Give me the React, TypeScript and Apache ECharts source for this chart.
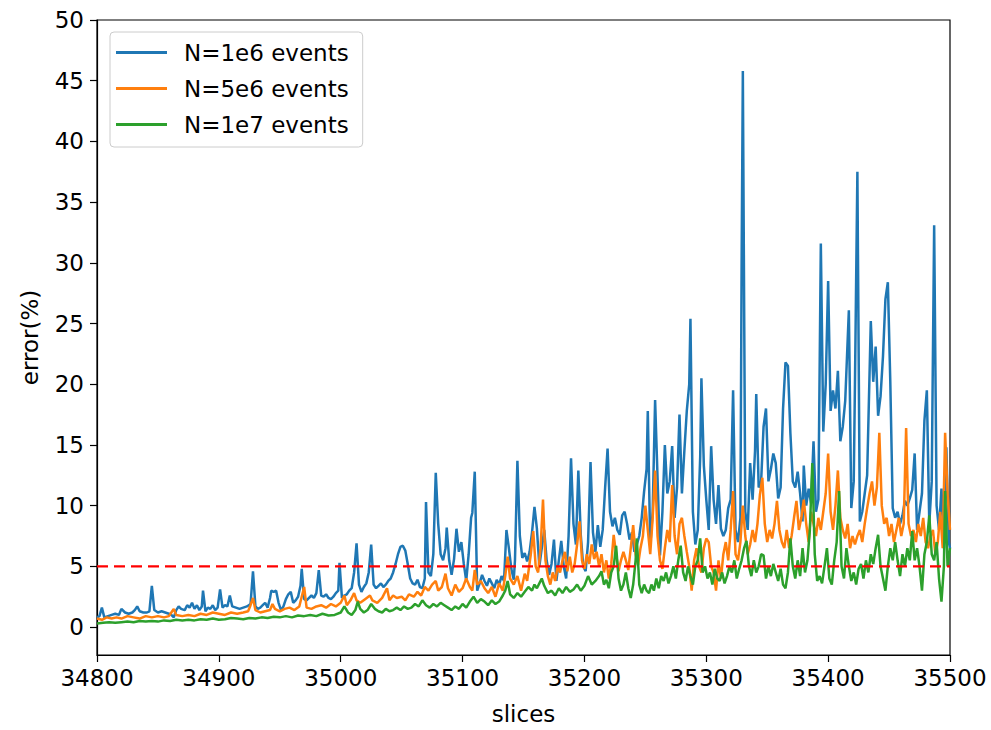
import React, { useEffect, useRef } from "react";
import * as echarts from "echarts";

// [slice, error %]
const blueData: [number, number][] = [
  [34800,0.8],[34802,0.9],[34804,1.6],[34806,0.8],[34809,0.9],[34812,1.0],[34815,1.1],[34818,1.0],[34820,1.5],[34823,1.2],[34826,1.1],[34829,1.2],[34831,1.4],[34833,1.7],[34835,1.3],[34838,1.2],[34841,1.2],[34843,1.3],[34845,3.4],[34847,1.4],[34850,1.2],[34853,1.3],[34856,1.2],[34859,1.1],[34861,1.0],[34863,0.8],[34865,1.4],[34867,1.7],[34869,1.5],[34872,1.4],[34874,1.8],[34876,1.6],[34878,2.0],[34880,1.5],[34882,1.8],[34884,1.4],[34886,1.7],[34887,3.0],[34889,1.3],[34891,1.6],[34893,1.5],[34895,1.8],[34897,1.4],[34899,1.6],[34901,3.1],[34903,1.6],[34905,1.8],[34907,1.7],[34909,2.6],[34911,1.7],[34914,1.6],[34917,1.5],[34920,1.6],[34923,1.7],[34926,1.9],[34928,4.6],[34930,1.7],[34932,1.5],[34934,1.6],[34936,1.8],[34938,2.0],[34940,1.6],[34942,2.4],[34943,3.0],[34945,2.9],[34947,3.0],[34949,2.0],[34951,1.4],[34953,1.7],[34955,2.3],[34957,2.7],[34959,2.9],[34961,2.0],[34963,2.2],[34965,2.5],[34967,3.4],[34968,4.8],[34970,2.3],[34972,2.2],[34974,2.4],[34976,2.6],[34978,2.4],[34980,2.8],[34982,4.7],[34984,2.6],[34986,2.5],[34988,2.7],[34990,2.4],[34992,2.3],[34994,2.5],[34996,2.8],[34998,3.0],[34999,5.3],[35001,2.4],[35003,2.6],[35005,2.7],[35007,3.0],[35009,3.2],[35011,4.5],[35013,6.9],[35015,3.5],[35017,2.9],[35019,3.3],[35021,3.6],[35023,4.5],[35025,6.8],[35027,3.5],[35029,3.2],[35031,3.4],[35033,3.6],[35035,3.3],[35037,3.5],[35039,3.8],[35041,4.0],[35043,4.5],[35045,5.2],[35047,6.0],[35049,6.6],[35051,6.7],[35053,6.3],[35055,5.2],[35057,4.0],[35059,3.6],[35061,3.5],[35063,3.9],[35065,3.3],[35067,3.2],[35069,4.0],[35070,10.3],[35072,4.5],[35074,4.2],[35076,6.0],[35078,12.7],[35080,8.5],[35082,6.0],[35084,5.5],[35086,6.5],[35087,8.2],[35089,5.5],[35091,4.3],[35093,5.6],[35095,8.1],[35097,6.2],[35099,7.0],[35101,5.2],[35103,3.8],[35105,6.0],[35107,9.0],[35108,9.4],[35110,12.8],[35112,3.0],[35114,3.6],[35116,4.3],[35118,3.8],[35120,3.4],[35122,4.0],[35124,3.6],[35126,3.2],[35128,3.9],[35130,3.5],[35132,4.2],[35134,3.8],[35136,8.0],[35138,6.5],[35140,4.8],[35142,3.9],[35143,5.5],[35145,13.7],[35147,7.5],[35149,5.7],[35151,6.1],[35153,5.4],[35155,6.2],[35157,7.8],[35159,9.9],[35161,8.1],[35163,5.0],[35165,6.5],[35167,8.0],[35169,5.5],[35171,4.3],[35173,5.2],[35175,7.2],[35177,3.8],[35179,5.5],[35181,7.1],[35183,5.0],[35185,4.0],[35187,7.5],[35189,13.9],[35191,8.5],[35193,6.8],[35195,12.9],[35197,7.6],[35199,5.0],[35201,4.6],[35203,7.0],[35205,13.6],[35207,7.8],[35209,6.2],[35211,8.4],[35213,6.6],[35215,8.0],[35217,11.5],[35219,14.7],[35221,9.5],[35223,8.3],[35225,9.0],[35227,8.0],[35229,7.6],[35231,9.2],[35233,9.5],[35235,8.5],[35237,7.2],[35239,7.8],[35241,6.2],[35243,6.8],[35245,7.5],[35247,9.0],[35249,11.2],[35251,13.0],[35252,17.8],[35254,6.7],[35256,9.5],[35258,18.7],[35260,12.3],[35262,5.9],[35264,9.5],[35266,15.0],[35268,11.0],[35270,12.0],[35272,14.9],[35274,9.0],[35276,11.5],[35278,17.5],[35280,11.0],[35282,14.5],[35284,17.8],[35286,20.0],[35287,25.4],[35289,9.5],[35291,6.8],[35293,8.0],[35295,14.0],[35296,20.5],[35298,13.3],[35300,10.5],[35302,8.0],[35304,14.9],[35306,10.5],[35308,8.5],[35310,11.7],[35312,8.1],[35314,7.5],[35316,8.0],[35318,9.8],[35320,10.5],[35322,19.5],[35324,8.0],[35326,7.0],[35328,9.0],[35329,30.0],[35330,45.8],[35332,9.5],[35334,8.0],[35336,13.5],[35338,10.5],[35340,14.5],[35341,19.2],[35343,11.5],[35345,12.0],[35347,16.5],[35349,18.0],[35351,12.0],[35353,13.0],[35355,14.3],[35357,13.5],[35359,10.6],[35361,11.5],[35363,18.0],[35365,21.8],[35367,21.5],[35369,16.0],[35371,12.0],[35373,11.5],[35375,12.8],[35377,11.0],[35379,8.7],[35380,13.3],[35382,10.0],[35384,11.4],[35386,10.2],[35388,15.3],[35390,9.5],[35392,10.5],[35394,31.6],[35396,16.1],[35398,20.0],[35400,28.5],[35402,17.8],[35404,19.5],[35406,18.0],[35408,21.1],[35410,15.3],[35412,16.5],[35414,18.6],[35417,26.1],[35419,9.8],[35421,12.0],[35422,20.0],[35424,37.5],[35426,8.7],[35428,9.5],[35430,11.0],[35432,12.5],[35435,25.2],[35437,20.2],[35439,23.1],[35441,17.4],[35443,19.0],[35445,22.3],[35447,27.0],[35449,28.4],[35451,20.2],[35453,9.8],[35455,9.0],[35457,9.5],[35459,8.5],[35461,9.2],[35463,10.4],[35465,10.0],[35467,10.6],[35469,11.3],[35471,14.3],[35473,8.0],[35475,9.5],[35477,11.0],[35479,17.0],[35481,19.5],[35483,8.5],[35485,12.0],[35487,33.1],[35489,10.0],[35491,8.0],[35493,11.4],[35495,6.5],[35497,14.8],[35499,7.0],[35500,6.5]
];

const orangeData: [number, number][] = [
  [34800,0.7],[34804,0.6],[34808,0.8],[34812,0.7],[34816,0.8],[34820,0.7],[34825,0.9],[34830,0.8],[34835,0.7],[34840,0.9],[34845,0.8],[34850,0.9],[34855,0.8],[34859,0.9],[34861,1.2],[34863,1.5],[34865,1.0],[34870,0.9],[34875,1.0],[34880,0.9],[34885,1.1],[34890,1.0],[34895,1.2],[34900,1.1],[34905,1.0],[34910,1.2],[34915,1.1],[34920,1.2],[34924,1.3],[34926,1.8],[34928,2.4],[34930,1.4],[34934,1.2],[34938,1.3],[34942,1.4],[34944,1.9],[34946,1.5],[34950,1.3],[34954,1.5],[34958,1.6],[34962,1.4],[34966,1.7],[34968,2.5],[34970,3.3],[34972,1.6],[34976,1.5],[34980,1.7],[34984,1.8],[34988,1.6],[34992,1.9],[34996,1.7],[35000,2.0],[35003,2.6],[35005,1.8],[35008,2.2],[35011,2.8],[35013,2.2],[35016,2.0],[35020,2.3],[35024,2.6],[35026,2.2],[35030,2.0],[35034,2.4],[35038,3.2],[35040,2.2],[35043,2.6],[35046,2.4],[35050,2.5],[35053,2.2],[35056,2.7],[35060,2.5],[35063,2.9],[35066,2.6],[35069,3.3],[35072,3.0],[35075,3.5],[35078,3.8],[35080,3.0],[35083,3.3],[35086,4.4],[35088,3.2],[35091,2.6],[35094,3.5],[35097,2.9],[35100,3.2],[35103,4.0],[35106,3.3],[35108,3.0],[35110,4.7],[35112,3.5],[35115,3.8],[35118,3.2],[35121,2.8],[35124,3.3],[35127,2.5],[35130,3.6],[35133,3.0],[35135,4.2],[35137,5.8],[35139,4.0],[35142,3.5],[35145,4.2],[35148,3.0],[35151,4.4],[35153,3.8],[35156,6.0],[35158,7.9],[35160,5.0],[35162,4.5],[35164,6.5],[35166,10.5],[35168,5.5],[35170,4.2],[35172,3.5],[35174,4.5],[35176,3.8],[35178,5.0],[35180,4.5],[35182,5.5],[35184,6.2],[35186,4.6],[35188,5.8],[35190,4.5],[35192,5.2],[35194,6.8],[35196,8.7],[35198,5.5],[35200,4.8],[35202,6.0],[35204,5.2],[35206,6.8],[35208,5.6],[35210,6.2],[35212,5.0],[35214,6.0],[35216,4.5],[35218,5.5],[35220,4.0],[35222,5.2],[35224,7.6],[35226,6.0],[35228,4.6],[35230,5.5],[35232,6.2],[35234,5.5],[35236,4.7],[35238,6.5],[35240,8.4],[35242,6.0],[35244,5.1],[35246,6.5],[35248,7.5],[35250,10.0],[35252,8.0],[35254,6.0],[35256,9.0],[35258,12.9],[35260,7.5],[35262,5.5],[35264,4.8],[35266,6.5],[35268,8.0],[35270,7.0],[35272,11.7],[35274,7.5],[35276,6.0],[35278,8.5],[35280,9.0],[35282,7.5],[35284,6.2],[35286,5.0],[35288,3.0],[35290,5.5],[35292,6.5],[35294,5.0],[35296,4.5],[35298,6.5],[35300,7.3],[35302,7.0],[35304,5.0],[35306,4.5],[35308,3.0],[35310,5.5],[35312,4.0],[35314,6.0],[35316,7.0],[35318,5.5],[35320,8.0],[35322,11.2],[35324,6.0],[35326,5.5],[35328,7.0],[35330,10.0],[35332,7.5],[35334,6.0],[35336,6.8],[35338,8.0],[35340,7.0],[35342,8.5],[35344,10.9],[35346,12.3],[35348,8.5],[35350,7.0],[35352,8.0],[35354,7.3],[35356,8.5],[35358,10.4],[35360,8.0],[35362,7.0],[35364,6.5],[35366,8.0],[35368,6.5],[35370,7.5],[35372,9.0],[35374,10.4],[35376,8.0],[35378,9.0],[35380,10.5],[35382,8.5],[35384,7.0],[35386,9.5],[35388,8.5],[35390,7.5],[35392,9.0],[35394,8.0],[35396,9.5],[35398,11.0],[35400,14.3],[35402,9.5],[35404,8.0],[35406,10.0],[35408,12.9],[35410,9.0],[35412,8.0],[35414,7.3],[35416,8.5],[35418,6.5],[35420,7.5],[35422,6.8],[35424,7.5],[35426,8.0],[35428,7.0],[35430,8.5],[35432,9.8],[35434,11.0],[35436,12.0],[35438,10.0],[35440,11.5],[35442,16.0],[35444,10.0],[35446,8.5],[35448,9.0],[35450,7.5],[35452,8.5],[35454,7.0],[35456,8.0],[35458,9.0],[35460,7.5],[35462,8.5],[35464,16.4],[35466,8.5],[35468,7.5],[35470,8.0],[35472,7.0],[35474,8.5],[35476,7.5],[35478,9.0],[35480,7.0],[35482,6.5],[35484,7.5],[35486,8.0],[35488,6.0],[35490,7.0],[35492,9.5],[35494,6.5],[35496,16.0],[35498,11.0],[35500,8.0]
];

const greenData: [number, number][] = [
  [34800,0.3],[34805,0.35],[34810,0.4],[34815,0.35],[34820,0.4],[34825,0.45],[34830,0.4],[34835,0.5],[34840,0.45],[34845,0.5],[34850,0.45],[34855,0.55],[34860,0.5],[34865,0.6],[34870,0.55],[34875,0.6],[34880,0.55],[34885,0.65],[34890,0.6],[34895,0.7],[34900,0.6],[34905,0.65],[34910,0.75],[34915,0.7],[34920,0.65],[34925,0.75],[34930,0.7],[34935,0.8],[34940,0.75],[34945,0.85],[34950,0.8],[34955,0.9],[34960,0.8],[34965,0.95],[34970,0.9],[34975,1.0],[34980,0.9],[34985,1.1],[34990,0.95],[34995,1.0],[35000,1.2],[35003,1.7],[35006,1.2],[35009,1.0],[35012,1.4],[35014,2.1],[35016,1.5],[35019,1.2],[35022,1.4],[35025,1.9],[35028,1.5],[35031,1.3],[35034,1.2],[35037,1.5],[35040,1.3],[35043,1.4],[35046,1.6],[35049,1.4],[35052,1.7],[35055,1.5],[35058,1.6],[35061,1.9],[35064,1.7],[35067,2.2],[35070,1.8],[35073,1.6],[35076,1.9],[35079,1.7],[35082,2.0],[35085,1.8],[35088,1.6],[35091,1.4],[35094,1.7],[35097,1.5],[35100,1.9],[35103,1.6],[35106,2.1],[35109,2.5],[35112,2.0],[35115,2.3],[35118,2.1],[35121,1.8],[35124,2.2],[35127,1.9],[35130,2.1],[35133,2.6],[35135,3.0],[35137,3.8],[35139,2.7],[35142,2.4],[35145,2.8],[35148,2.5],[35151,2.9],[35154,3.3],[35157,3.0],[35159,3.5],[35161,3.2],[35163,3.6],[35165,4.0],[35167,3.4],[35170,2.8],[35173,3.0],[35176,2.6],[35179,3.2],[35182,2.8],[35185,3.3],[35188,2.9],[35191,3.1],[35194,3.5],[35197,3.0],[35200,3.4],[35203,4.2],[35206,3.5],[35209,3.8],[35212,4.2],[35214,4.6],[35216,3.5],[35218,3.9],[35220,3.2],[35222,4.5],[35224,5.0],[35226,6.7],[35228,4.0],[35230,3.0],[35232,3.5],[35234,4.5],[35236,3.2],[35238,2.4],[35240,3.5],[35242,5.5],[35243,7.3],[35245,3.5],[35247,2.8],[35249,3.5],[35251,3.0],[35253,2.8],[35255,3.5],[35257,3.0],[35259,4.0],[35261,3.2],[35263,4.2],[35265,3.8],[35267,4.5],[35269,3.6],[35271,4.2],[35273,5.0],[35275,4.0],[35277,5.5],[35279,6.7],[35281,4.5],[35283,3.8],[35285,5.0],[35287,4.2],[35289,3.5],[35291,5.0],[35293,5.5],[35295,7.3],[35297,4.5],[35299,5.0],[35301,4.0],[35303,4.5],[35305,3.5],[35307,4.8],[35309,4.0],[35311,3.8],[35313,4.5],[35315,3.6],[35317,4.2],[35319,5.0],[35321,4.5],[35323,5.5],[35325,4.0],[35327,4.8],[35329,5.5],[35331,6.5],[35333,7.1],[35335,5.0],[35337,4.2],[35339,5.5],[35341,4.5],[35343,5.0],[35345,6.0],[35347,5.9],[35349,4.0],[35351,5.0],[35353,4.2],[35355,5.2],[35357,4.5],[35359,3.8],[35361,4.8],[35363,3.5],[35365,3.2],[35367,4.5],[35369,7.3],[35371,5.0],[35373,4.0],[35375,5.5],[35377,4.2],[35379,6.5],[35381,4.5],[35383,5.5],[35385,8.0],[35387,13.5],[35389,6.0],[35391,3.8],[35393,4.2],[35395,3.6],[35397,5.0],[35399,6.5],[35401,4.0],[35403,3.5],[35405,5.5],[35407,7.0],[35409,11.2],[35411,5.0],[35413,4.0],[35415,6.5],[35417,5.0],[35419,3.8],[35421,4.5],[35423,3.5],[35425,4.8],[35427,5.2],[35429,4.0],[35431,5.5],[35433,4.5],[35435,6.0],[35437,5.2],[35439,6.5],[35441,7.6],[35443,5.0],[35445,4.0],[35447,3.0],[35449,5.0],[35451,6.5],[35453,5.5],[35455,7.0],[35457,5.5],[35459,4.2],[35461,6.0],[35463,5.0],[35465,6.5],[35467,5.5],[35469,7.9],[35471,5.5],[35473,6.5],[35475,5.0],[35477,3.0],[35479,6.0],[35481,7.0],[35483,9.2],[35485,6.0],[35487,5.5],[35489,7.0],[35491,4.0],[35493,2.1],[35495,5.0],[35496,11.2],[35498,5.0],[35500,6.5]
];

const seriesNames = ["N=1e6 events", "N=5e6 events", "N=1e7 events"];
const seriesColors = ["#1f77b4", "#ff7f0e", "#2ca02c"];
const thresholdY = 5;
const xRange = [34800, 35500];
const yTickValues = [0, 5, 10, 15, 20, 25, 30, 35, 40, 45, 50];
const yRange = [-2.3, 50];

export default function App() {
  const ref = useRef<HTMLDivElement>(null);
  useEffect(() => {
    document.body.style.margin = "0";
    const chart = echarts.init(ref.current!, null, { renderer: "svg" });
    const font = "DejaVu Sans";
    const fs = 23;
    const lineSeries = (name: string, data: [number, number][], color: string) => ({
      name,
      type: "line",
      data,
      symbol: "none",
      showSymbol: false,
      smooth: false,
      lineStyle: { color, width: 2.5 },
      itemStyle: { color },
      emphasis: { disabled: true },
    });
    chart.setOption({
      animation: false,
      backgroundColor: "#ffffff",
      grid: {
        left: 97,
        right: 41,
        top: 20,
        bottom: 73,
        show: true,
        borderColor: "#000",
        borderWidth: 1.2,
        backgroundColor: "transparent",
      },
      legend: {
        data: seriesNames,
        orient: "vertical",
        left: 110,
        top: 32,
        icon: "rect",
        itemWidth: 51,
        itemHeight: 2.8,
        itemGap: 11,
        padding: [8, 14, 10, 6],
        backgroundColor: "rgba(255,255,255,0.8)",
        borderColor: "#cccccc",
        borderWidth: 1,
        borderRadius: 4,
        textStyle: {
          fontFamily: font,
          fontSize: fs,
          color: "#000",
          lineHeight: 25,
          padding: [0, 0, 0, 12],
        },
      },
      xAxis: {
        type: "value",
        min: xRange[0],
        max: xRange[1],
        interval: 100,
        name: "slices",
        nameLocation: "middle",
        nameGap: 47,
        nameTextStyle: { fontFamily: font, fontSize: fs, color: "#000" },
        axisLine: { show: true, onZero: false, lineStyle: { color: "#000", width: 1.2 } },
        axisTick: { show: true, inside: false, length: 7, lineStyle: { color: "#000", width: 1.2 } },
        axisLabel: {
          fontFamily: font,
          fontSize: fs,
          color: "#000",
          margin: 11,
          formatter: (v: number) => String(v),
        },
        splitLine: { show: false },
      },
      yAxis: {
        type: "value",
        min: yRange[0],
        max: yRange[1],
        name: "error(%)",
        nameLocation: "middle",
        nameGap: 56,
        nameTextStyle: { fontFamily: font, fontSize: fs, color: "#000" },
        axisLine: { show: true, onZero: false, lineStyle: { color: "#000", width: 1.2 } },
        axisTick: {
          show: true,
          inside: false,
          length: 7,
          customValues: yTickValues,
          lineStyle: { color: "#000", width: 1.2 },
        },
        axisLabel: {
          fontFamily: font,
          fontSize: fs,
          color: "#000",
          margin: 13,
          customValues: yTickValues,
          formatter: (v: number) => String(v),
        },
        splitLine: { show: false },
      },
      series: [
        lineSeries(seriesNames[0], blueData, seriesColors[0]),
        lineSeries(seriesNames[1], orangeData, seriesColors[1]),
        lineSeries(seriesNames[2], greenData, seriesColors[2]),
        {
          name: "threshold",
          type: "line",
          data: [
            [xRange[0], thresholdY],
            [xRange[1], thresholdY],
          ],
          symbol: "none",
          lineStyle: { color: "#ff0000", width: 2.4, type: [11, 6] },
          emphasis: { disabled: true },
          z: 5,
        },
      ],
    });
    return () => chart.dispose();
  }, []);
  return (
    <div
      ref={ref}
      style={{ position: "absolute", left: 0, top: 0, width: 991, height: 730 }}
    />
  );
}
